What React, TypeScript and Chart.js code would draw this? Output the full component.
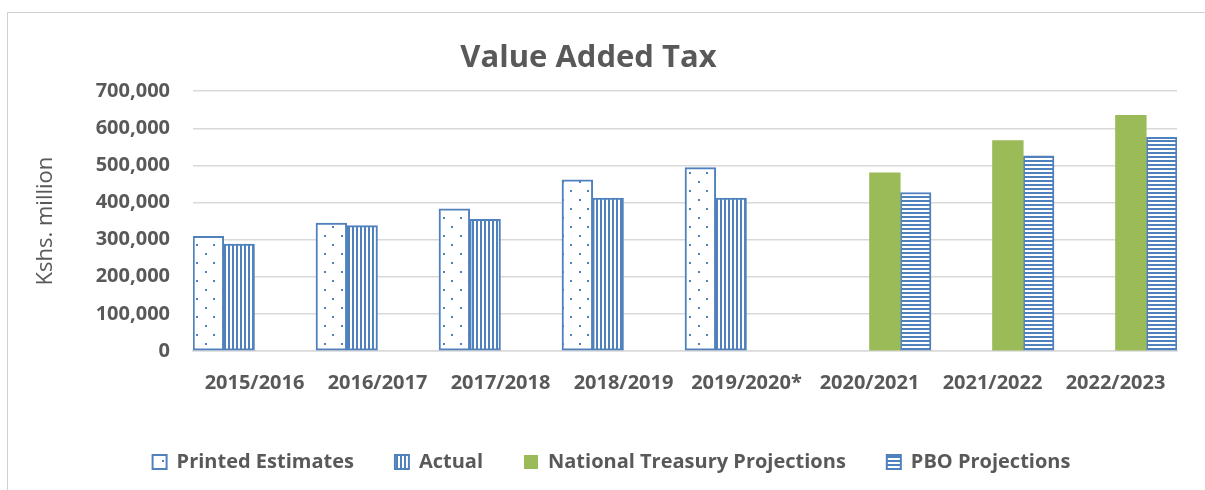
import React, { useEffect, useRef } from "react";
import { Chart, registerables } from "chart.js";

Chart.register(...registerables);

const categories = [
  "2015/2016",
  "2016/2017",
  "2017/2018",
  "2018/2019",
  "2019/2020*",
  "2020/2021",
  "2021/2022",
  "2022/2023",
];

const printedEstimates = [309000, 345000, 383000, 461000, 494000, null, null, null];
const actual = [288000, 338000, 355000, 412000, 412000, null, null, null];
const ntProjections = [null, null, null, null, null, 480000, 567000, 635000];
const pboProjections = [null, null, null, null, null, 427000, 526000, 576000];

const seriesNames = [
  "Printed Estimates",
  "Actual",
  "National Treasury Projections",
  "PBO Projections",
];

const yTicks = [0, 100000, 200000, 300000, 400000, 500000, 600000, 700000];

const BLUE = "#4F81BD";
const GREEN = "#9BBB59";
const TEXT = "#595959";
const GRID = "#d9d9d9";
const FONT = '"Open Sans", Lato, sans-serif';

function makePattern(kind: "dots" | "vertical" | "horizontal"): CanvasPattern | string {
  const c = document.createElement("canvas");
  let w = 4;
  let h = 4;
  if (kind === "dots") {
    w = 17;
    h = 18;
  } else if (kind === "vertical") {
    w = 4;
    h = 1;
  } else {
    w = 1;
    h = 4;
  }
  c.width = w;
  c.height = h;
  const ctx = c.getContext("2d");
  if (!ctx) return "#fff";
  ctx.fillStyle = "#ffffff";
  ctx.fillRect(0, 0, w, h);
  ctx.fillStyle = BLUE;
  if (kind === "dots") {
    ctx.fillRect(1, 1, 2, 2);
    ctx.fillRect(9, 10, 2, 2);
  } else if (kind === "vertical") {
    ctx.fillRect(0, 0, 2, 1);
  } else {
    ctx.fillRect(0, 0, 1, 2);
  }
  const p = ctx.createPattern(c, "repeat");
  return p || "#fff";
}

const LEGEND_SHIFT = 23;

export default function App() {
  const canvasRef = useRef<HTMLCanvasElement | null>(null);

  useEffect(() => {
    if (!canvasRef.current) return;
    const legendShift = {
      id: "legendShift",
      afterLayout(chart: any) {
        const l = chart.legend;
        if (l) {
          l.left += LEGEND_SHIFT;
          l.right += LEGEND_SHIFT;
        }
      },
    };
    const chart = new Chart(canvasRef.current, {
      type: "bar",
      data: {
        labels: categories,
        datasets: [
          {
            label: seriesNames[0],
            data: printedEstimates,
            backgroundColor: makePattern("dots") as any,
            borderColor: BLUE,
            borderWidth: 2,
            borderSkipped: false,
          },
          {
            label: seriesNames[1],
            data: actual,
            backgroundColor: makePattern("vertical") as any,
            borderColor: BLUE,
            borderWidth: 2,
            borderSkipped: false,
          },
          {
            label: seriesNames[2],
            data: ntProjections,
            backgroundColor: GREEN,
            borderWidth: 0,
          },
          {
            label: seriesNames[3],
            data: pboProjections,
            backgroundColor: makePattern("horizontal") as any,
            borderColor: BLUE,
            borderWidth: 2,
            borderSkipped: false,
          },
        ],
      },
      options: {
        responsive: false,
        animation: false,
        events: [],
        layout: { padding: { left: 0, right: 28, top: 0, bottom: 8 } },
        datasets: {
          bar: { categoryPercentage: 1, barPercentage: 1 },
        },
        plugins: {
          title: {
            display: true,
            text: "Value Added Tax",
            color: TEXT,
            font: { family: FONT, size: 31, weight: "bold", lineHeight: 1.2 },
            padding: { top: 40, bottom: 14 },
          },
          legend: {
            position: "bottom",
            labels: {
              color: TEXT,
              font: { family: FONT, size: 20, weight: "bold", lineHeight: 1.2 },
              boxWidth: 14,
              boxHeight: 14,
              padding: 41,
            },
          },
          tooltip: { enabled: false },
        },
        scales: {
          x: {
            grid: { display: false, drawTicks: false },
            border: { display: true, color: GRID, width: 1.5 },
            ticks: {
              color: TEXT,
              padding: 20,
              maxRotation: 0,
              autoSkip: false,
              font: { family: FONT, size: 20, weight: "bold", lineHeight: 1.2 },
            },
            afterFit(scale: any) {
              scale.height = 60;
            },
          },
          y: {
            min: 0,
            max: 700000,
            afterBuildTicks(scale: any) {
              scale.ticks = yTicks.map((v) => ({ value: v }));
            },
            grid: { color: GRID, lineWidth: 1.5, drawTicks: false },
            border: { display: false },
            ticks: {
              color: TEXT,
              padding: 23,
              font: { family: FONT, size: 20, weight: "bold", lineHeight: 1.2 },
              callback: (v: any) => Number(v).toLocaleString("en-US"),
            },
            title: {
              display: true,
              text: "Kshs. million",
              color: TEXT,
              font: { family: FONT, size: 22, weight: "normal", lineHeight: 1.2 },
              padding: { top: 33, bottom: 0 },
            },
            afterFit(scale: any) {
              scale.width = 193;
            },
          },
        },
      },
      plugins: [legendShift],
    });
    return () => chart.destroy();
  }, []);

  return (
    <div style={{ position: "absolute", left: 0, top: 0, width: 1205, height: 490, background: "#fff" }}>
      <div
        style={{
          position: "absolute",
          left: 7,
          top: 12,
          width: 1198,
          height: 478,
          borderTop: "1px solid #d0d0d0",
          borderLeft: "1px solid #d0d0d0",
        }}
      />
      <canvas
        ref={canvasRef}
        width={1205}
        height={490}
        style={{ position: "absolute", left: 0, top: 0, width: 1205, height: 490 }}
      />
    </div>
  );
}
